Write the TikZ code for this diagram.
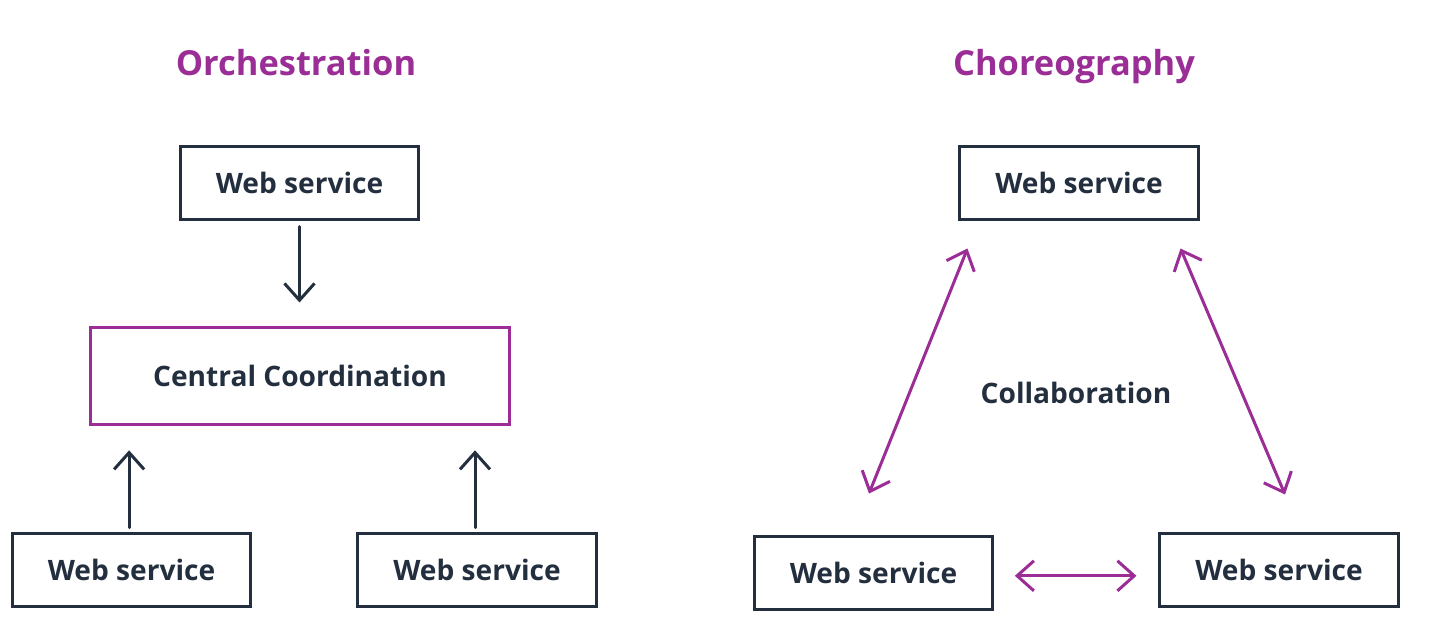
\documentclass[tikz,border=0pt]{standalone}
\usepackage{fontspec}
\setmainfont{Open Sans}
\usepackage{xcolor}
\usetikzlibrary{arrows.meta}
\usetikzlibrary{positioning}
\definecolor{ink}{HTML}{232F3E}
\definecolor{plum}{HTML}{9B2D96}

\begin{document}
\begin{tikzpicture}
[
	x = 0.025cm, y = -0.025cm,
	service/.style	= {rectangle, draw = ink, line width = 0.075cm, minimum width = 5.95cm, minimum height = 1.8cm, inner sep = 0cm, font = \fontsize{20}{24}\selectfont\bfseries, text = ink},
	hub/.style	= {service, draw = plum, minimum width = 10.45cm, minimum height = 2.4cm},
	heading/.style	= {anchor = base, inner sep = 0cm, font = \fontsize{24.5}{29}\selectfont\bfseries, text = plum},
	comment/.style	= {font = \fontsize{20}{24}\selectfont\bfseries, text = ink},
	barb/.style	= {line width = 0.075cm, line cap = round},
	> = {Straight Barb[length = 0.42cm, width = 0.75cm]},
]
	\useasboundingbox (0,0) rectangle (1446,644);

	% orchestration
	\node (orch) [heading] at (296,75) {Orchestration};
	\node (orchTop) [service] at (299.5,183) {Web service};
	\node (central) [hub] at (300,376) {Central Coordination};
	\node (orchA) [service] at (131.5,570) {Web service};
	\node (orchB) [service] at (477,570) {Web service};

	\draw [barb, ->, ink, shorten < = 0.15cm, shorten > = 0.6cm] (orchTop.south) -- (central.north -| orchTop.south);
	\draw [barb, ->, ink, shorten < = 0.12cm, shorten > = 0.62cm] ([xshift = -0.06cm]orchA.north) -- ([xshift = -0.06cm]orchA.north |- central.south);
	\draw [barb, ->, ink, shorten < = 0.12cm, shorten > = 0.62cm] ([xshift = -0.05cm]orchB.north) -- ([xshift = -0.05cm]orchB.north |- central.south);

	% choreography
	\node (chor) [heading] at (1074,75) {Choreography};
	\node (chorTop) [service] at (1079,183) {Web service};
	\node (chorL) [service] at (873.5,573) {Web service};
	\node (chorR) [service] at (1279,570) {Web service};
	\node (collab) [comment] at (1076,393) {Collaboration};

	\draw [barb, <->, plum] ([shift = {(9,28)}]chorTop.south west) -- ([shift = {(-4.5,-42)}]chorL.north);
	\draw [barb, <->, plum] ([shift = {(-19,28)}]chorTop.south east) -- ([shift = {(6,-38)}]chorR.north);
	\draw [barb, <->, plum, shorten < = 0.52cm, shorten > = 0.55cm] ([yshift = -2]chorL.east) -- ([yshift = -2]chorL.east -| chorR.west);

\end{tikzpicture}
\end{document}
